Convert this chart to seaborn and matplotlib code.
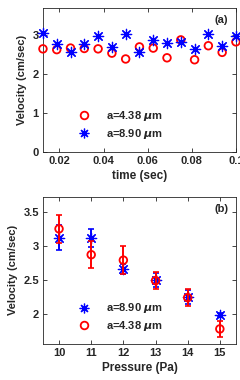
import numpy as np
import pandas as pd
import seaborn as sns
import matplotlib.pyplot as plt
from matplotlib.lines import Line2D

# ---------------------------
# Data
# ---------------------------

time_s = [0.0125, 0.01875, 0.025, 0.03125, 0.0375, 0.04375, 0.05, 0.05625,
          0.0625, 0.06875, 0.075, 0.08125, 0.0875, 0.09375, 0.1]
vel_small = [2.65, 2.63, 2.67, 2.66, 2.65, 2.54, 2.39, 2.70,
             2.67, 2.42, 2.88, 2.37, 2.73, 2.56, 2.83]
vel_large = [3.06, 2.78, 2.56, 2.78, 2.97, 2.69, 3.04, 2.58,
             2.89, 2.80, 2.82, 2.65, 3.02, 2.73, 2.99]

pressure = [10, 11, 12, 13, 14, 15]
p_small = [3.25, 2.87, 2.79, 2.49, 2.24, 1.78]
p_small_err = [0.21, 0.20, 0.21, 0.13, 0.13, 0.12]
p_large = [3.12, 3.12, 2.66, 2.50, 2.25, 1.98]
p_large_err = [0.18, 0.13, 0.08, 0.10, 0.10, 0.03]

label_small = r"a=4.38 $\mu$m"
label_large = r"a=8.90 $\mu$m"

RED = "#ff0000"
BLUE = "#0000ff"
TXT = "#262626"
STAR = (8, 2, 0)

sns.set_style("ticks")
plt.rcParams["font.family"] = ["Liberation Sans", "DejaVu Sans"]
plt.rcParams["font.weight"] = "bold"
plt.rcParams["axes.labelweight"] = "bold"
plt.rcParams["text.color"] = TXT
plt.rcParams["axes.labelcolor"] = TXT
plt.rcParams["xtick.color"] = TXT
plt.rcParams["ytick.color"] = TXT
plt.rcParams["axes.edgecolor"] = TXT

fig = plt.figure(figsize=(2.4, 3.8), dpi=100)
ax1 = fig.add_axes([0.179, 0.600, 0.804, 0.379])
ax2 = fig.add_axes([0.179, 0.095, 0.804, 0.387])

# ---------------------------
# Panel (a)
# ---------------------------

df_a = pd.DataFrame({"t": time_s, "small": vel_small, "large": vel_large})

sns.scatterplot(data=df_a, x="t", y="small", ax=ax1, marker="o",
                facecolor="none", edgecolor=RED, linewidth=1.3, s=30,
                clip_on=False, zorder=3)
sns.scatterplot(data=df_a, x="t", y="large", ax=ax1, marker=STAR,
                color=BLUE, edgecolor=BLUE, linewidth=0.9, s=55,
                clip_on=False, zorder=3)

ax1.set_xlim(0.0125, 0.1)
ax1.set_ylim(0, 3.7)
ax1.set_xticks([0.02, 0.04, 0.06, 0.08, 0.1])
ax1.set_xticklabels(["0.02", "0.04", "0.06", "0.08", "0.1"])
ax1.set_yticks([0, 1, 2, 3])
ax1.set_xlabel("time (sec)", fontsize=8.5, labelpad=3)
ax1.set_ylabel("Velocity (cm/sec)", fontsize=8, labelpad=4)
ax1.text(0.96, 0.95, "(a)", transform=ax1.transAxes, ha="right", va="top",
         fontsize=8, fontweight="bold")

h_small = Line2D([], [], marker="o", ls="none", mfc="none", mec=RED, mew=1.3, ms=5.5)
h_large = Line2D([], [], marker=STAR, ls="none", color=BLUE, mec=BLUE, mew=0.9, ms=7)
ax1.legend([h_small, h_large], [label_small, label_large], loc="center left",
           bbox_to_anchor=(0.12, 0.19), frameon=False, fontsize=8,
           handlelength=1.5, handletextpad=1.2, labelspacing=0.35)

# ---------------------------
# Panel (b)
# ---------------------------

df_b = pd.DataFrame({"p": pressure, "small": p_small, "large": p_large})

ax2.errorbar(pressure, p_large, yerr=p_large_err, fmt="none", ecolor=BLUE,
             elinewidth=1.4, capsize=2.5, capthick=1.2, zorder=2)
sns.scatterplot(data=df_b, x="p", y="large", ax=ax2, marker=STAR,
                color=BLUE, edgecolor=BLUE, linewidth=0.9, s=55, zorder=3)
ax2.errorbar(pressure, p_small, yerr=p_small_err, fmt="none", ecolor=RED,
             elinewidth=1.4, capsize=2.5, capthick=1.2, zorder=4)
sns.scatterplot(data=df_b, x="p", y="small", ax=ax2, marker="o",
                facecolor="none", edgecolor=RED, linewidth=1.3, s=30, zorder=5)

ax2.set_xlim(9.5, 15.5)
ax2.set_ylim(1.56, 3.72)
ax2.set_xticks(pressure)
ax2.set_yticks([2, 2.5, 3, 3.5])
ax2.set_yticklabels(["2", "2.5", "3", "3.5"])
ax2.set_xlabel("Pressure (Pa)", fontsize=8.5, labelpad=3)
ax2.set_ylabel("Velocity (cm/sec)", fontsize=8, labelpad=4)
ax2.text(0.96, 0.95, "(b)", transform=ax2.transAxes, ha="right", va="top",
         fontsize=8, fontweight="bold")

ax2.legend([h_large, h_small], [label_large, label_small], loc="center left",
           bbox_to_anchor=(0.12, 0.18), frameon=False, fontsize=8,
           handlelength=1.5, handletextpad=1.2, labelspacing=0.35)

for ax in (ax1, ax2):
    ax.tick_params(direction="in", top=True, right=True, length=3,
                   width=0.6, labelsize=8, pad=3)
    for sp in ax.spines.values():
        sp.set_linewidth(0.6)

fig.savefig("out.png", dpi=100)
